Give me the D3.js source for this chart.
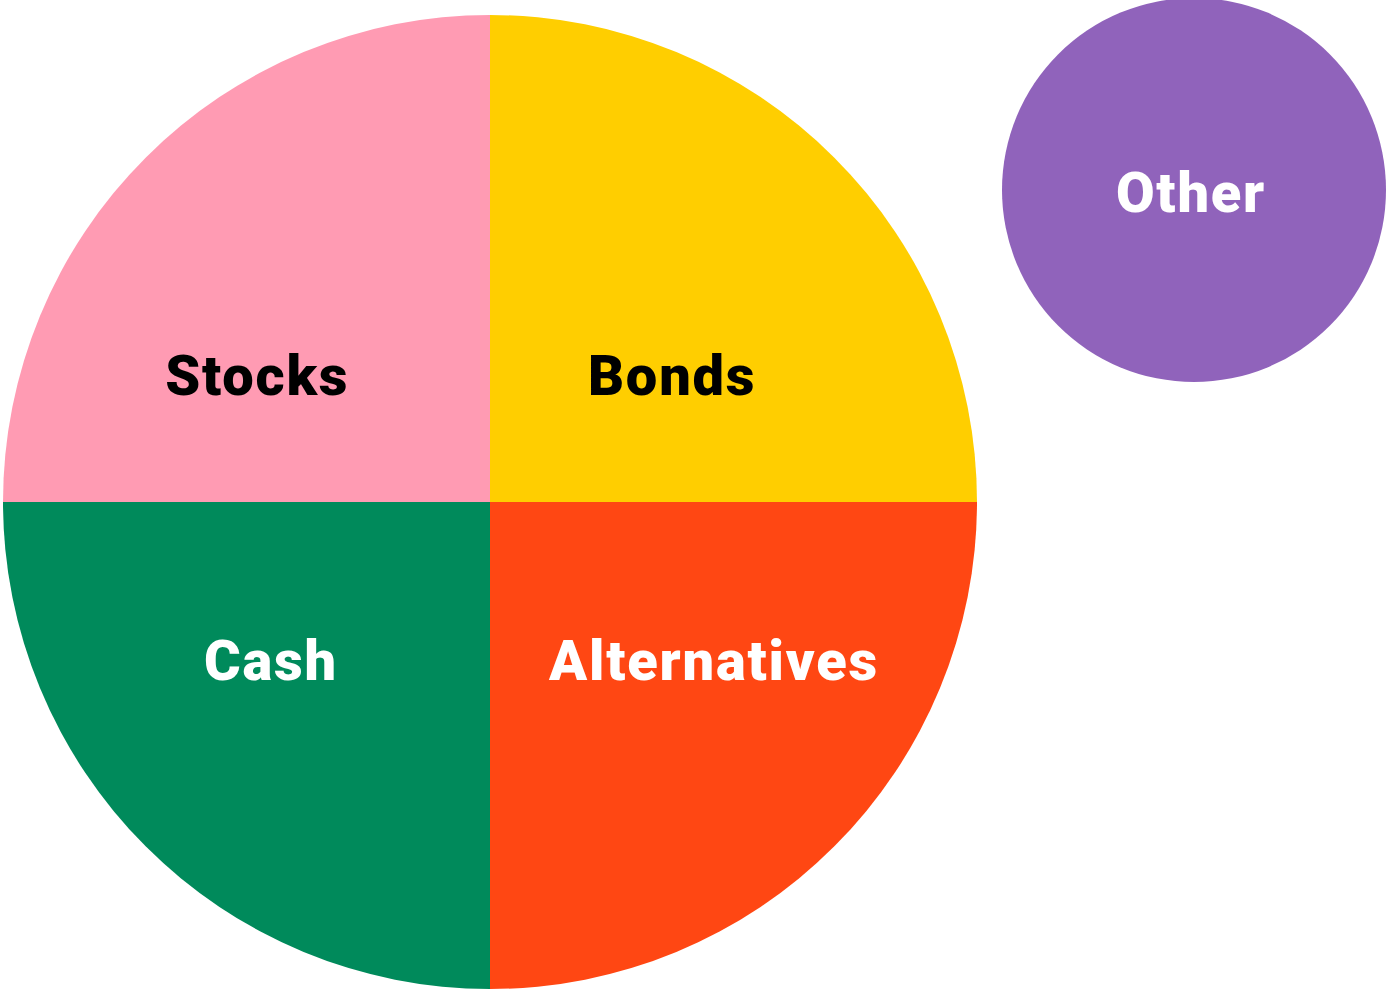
<!DOCTYPE html>
<html>
<head>
<meta charset="utf-8">
<script src="https://cdn.jsdelivr.net/npm/d3@7"></script>
<style>
html,body{margin:0;padding:0;background:#fff;}
svg{display:block;}
text{font-family:Roboto,"Noto Sans",sans-serif;font-weight:900;letter-spacing:1.8px;}
</style>
</head>
<body>
<svg id="chart" width="1386" height="991"></svg>
<script>
// Data
const categories = ["Bonds", "Alternatives", "Cash", "Stocks"];
const values = [25, 25, 25, 25];
const colors = ["#FFCE00", "#FF4713", "#008A5B", "#FF9BB3"];
const labelColors = ["#000000", "#ffffff", "#ffffff", "#000000"];
const otherCategory = ["Other"];
const otherValues = [1];
const otherColor = "#9063BB";

// Layout (not data)
const main = {cx: 490, cy: 502, r: 487};
const small = {cx: 1194, cy: 190, r: 192};
// label anchor offsets, in units of radius, relative to the pie centre
const labelOffsets = {
  "Bonds":        [0.372, -0.220],
  "Alternatives": [0.458,  0.366],
  "Cash":         [-0.452, 0.366],
  "Stocks":       [-0.480, -0.220]
};

const svg = d3.select("#chart");

const pie = d3.pie().sort(null).value(d => d.value);
const data = categories.map((c, i) => ({name: c, value: values[i], color: colors[i], label: labelColors[i]}));
const arcs = pie(data);
const arc = d3.arc().innerRadius(0).outerRadius(main.r);

const g = svg.append("g").attr("transform", `translate(${main.cx},${main.cy})`);
g.selectAll("path").data(arcs).join("path")
  .attr("d", arc)
  .attr("fill", d => d.data.color);

g.selectAll("text").data(arcs).join("text")
  .attr("x", d => labelOffsets[d.data.name][0] * main.r + 1)
  .attr("y", d => labelOffsets[d.data.name][1] * main.r)
  .attr("text-anchor", "middle")
  .attr("font-size", 56)
  .attr("fill", d => d.data.label)
  .text(d => d.data.name);

// Other bubble
const otherData = otherCategory.map((c, i) => ({name: c, value: otherValues[i]}));
const otherArcs = d3.pie().value(d => d.value)(otherData);
const otherArc = d3.arc().innerRadius(0).outerRadius(small.r);
const g2 = svg.append("g").attr("transform", `translate(${small.cx},${small.cy})`);
g2.selectAll("path").data(otherArcs).join("path")
  .attr("d", otherArc)
  .attr("fill", otherColor);
g2.selectAll("text").data(otherArcs).join("text")
  .attr("x", -3)
  .attr("y", 22)
  .attr("text-anchor", "middle")
  .attr("font-size", 56)
  .attr("fill", "#fff")
  .text(d => d.data.name);
</script>
</body>
</html>
